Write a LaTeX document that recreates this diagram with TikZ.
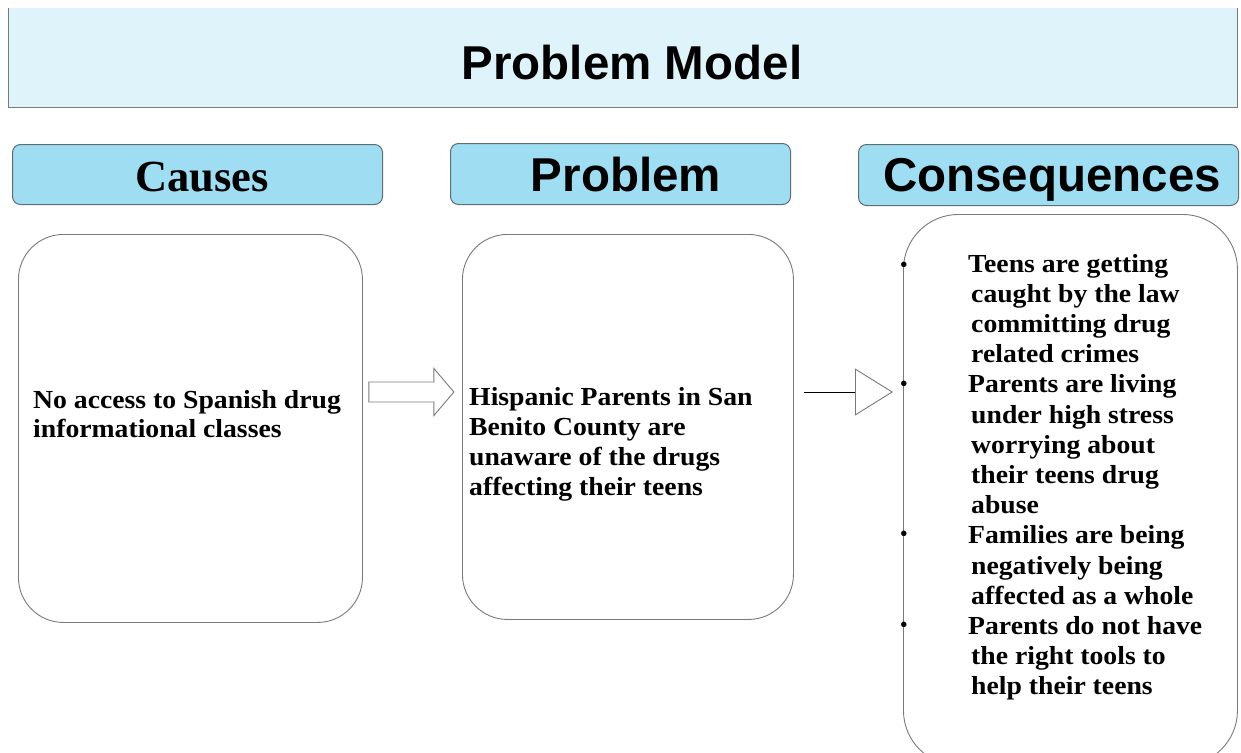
\documentclass[tikz,border=0pt]{standalone}
\usepackage{fontspec}
\setmainfont{Liberation Serif}
\newfontfamily\arialf{Liberation Sans}
\newfontfamily\serifwide[FakeStretch=1.065]{Liberation Serif}
\usetikzlibrary{arrows.meta,calc}
\definecolor{titlefill}{HTML}{DFF3FA}
\definecolor{headfill}{HTML}{9FDDF3}
\definecolor{headline}{HTML}{5E6E72}
\definecolor{boxline}{HTML}{7A7A7A}
\newcommand\textlines[1]{\begin{tabular}[t]{@{}l@{}}#1\end{tabular}}
\begin{document}
\begin{tikzpicture}[x=1pt,y=-1pt,
  headbox/.style={draw=headline,line width=1pt,fill=headfill,rounded corners=8pt,inner sep=0pt,anchor=north west},
  contentbox/.style={draw=boxline,line width=0.9pt,fill=white,inner sep=0pt,anchor=north west},
  arialhead/.style={font=\arialf\bfseries\fontsize{47.5}{50}\selectfont,inner sep=0pt,anchor=base},
  serifhead/.style={font=\bfseries\fontsize{44.5}{48}\selectfont,inner sep=0pt,anchor=base},
  bodytext/.style={font=\serifwide\bfseries\fontsize{26}{#1}\selectfont,inner sep=0pt,anchor=base west},
  bulletmark/.style={font=\fontsize{23}{24}\selectfont,inner sep=0pt,anchor=base},
  arrowline/.style={draw=boxline,line width=0.9pt,fill=white}
]
\useasboundingbox (0,0) rectangle (1241,752);
\clip (0,0) rectangle (1241,752);
\fill[white] (0,0) rectangle (1241,752);

% title banner
\node[fill=titlefill,inner sep=0pt,minimum width=1229pt,minimum height=99pt,anchor=north west] (titlebox) at (8,8) {};
\draw[boxline,line width=1pt] (titlebox.north west) -- (titlebox.south west) -- (titlebox.south east) -- (titlebox.north east);
\node[arialhead] (title) at (632,79) {Problem Model};

% headers
\node[headbox,minimum width=370pt,minimum height=60pt] (hcause) at (12,144) {};
\node[serifhead] (hcausetext) at (202,191) {Causes};
\node[headbox,minimum width=340pt,minimum height=61pt] (hprob) at (450,143) {};
\node[arialhead] (hprobtext) at (626,191) {Problem};
\node[headbox,minimum width=380pt,minimum height=61pt] (hcons) at (858,144) {};
\node[arialhead] (hconstext) at (1052,191) {Consequences};

% content boxes
\node[contentbox,rounded corners=45pt,minimum width=344pt,minimum height=388pt] (causebox) at (18,234) {};
\node[contentbox,rounded corners=45pt,minimum width=331pt,minimum height=385pt] (probbox) at (462,234) {};
\node[contentbox,rounded corners=55pt,minimum width=334pt,minimum height=551pt] (consbox) at (903,214) {};

% texts
\node[bodytext=29.5] (causetext) at (33,408) {\textlines{No access to Spanish drug\\ informational classes}};
\node[bodytext=30] (probtext) at (469,405) {\textlines{Hispanic Parents in San\\ Benito County are\\ unaware of the drugs\\ affecting their teens}};
\node[bodytext=30.2] (constext) at (971,272) {\textlines{\hspace*{-3pt}Teens are getting\\ caught by the law\\ committing drug\\ related crimes\\
\hspace*{-3pt}Parents are living\\ under high stress\\ worrying about\\ their teens drug\\ abuse\\
\hspace*{-3pt}Families are being\\ negatively being\\ affected as a whole\\
\hspace*{-3pt}Parents do not have\\ the right tools to\\ help their teens}};

% bullets
\node[bulletmark] (b1) at (904,272) {•};
\node[bulletmark] (b2) at (904,391) {•};
\node[bulletmark] (b3) at (904,541) {•};
\node[bulletmark] (b4) at (904,632) {•};

% arrows
\coordinate (lvl) at (0,392);
\draw[arrowline] ($(causebox.east |- lvl)+(6,0)$) ++(0,-10) -- ++(65,0) -- ++(0,-13.5) -- ++(20,23.5) -- ++(-20,23.5) -- ++(0,-13.5) -- ++(-65,0) -- cycle;
\draw[line width=0.9pt,-{Triangle[open,length=38pt,width=47pt,color=boxline]},shorten >=10pt] ($(probbox.east |- lvl)+(10,0)$) -- (consbox.west |- lvl);
\end{tikzpicture}
\end{document}
